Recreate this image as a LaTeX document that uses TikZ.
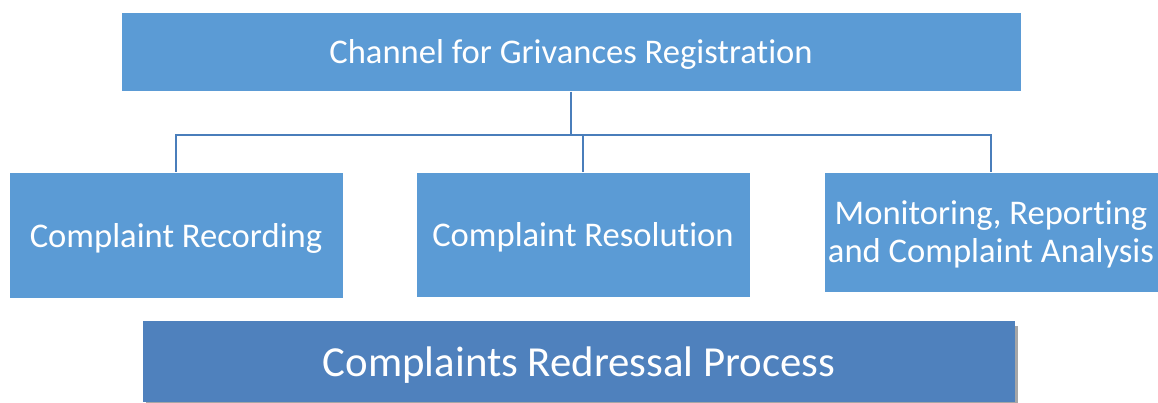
\documentclass[tikz,border=0pt]{standalone}
\usepackage{fontspec}
\setmainfont{Carlito}[Ligatures={NoCommon}]
\begin{document}
\begin{tikzpicture}[x=1pt,y=-1pt,
  box/.style={fill=boxblue,draw=white,line width=1pt,text=white,align=center,inner sep=0pt,
    font=\fontsize{34.6}{38}\selectfont,text depth=0pt},
  conn/.style={draw=lineblue,line width=2.4pt}]
\definecolor{boxblue}{HTML}{5B9BD5}
\definecolor{darkblue}{HTML}{4F81BD}
\definecolor{lineblue}{HTML}{4A7EBB}
\definecolor{shadowgray}{HTML}{A6A6A6}
\useasboundingbox (0,0) rectangle (1158,402);
\node[box,minimum width=900pt,minimum height=79pt] (top) at (571,51.5) {Channel for Grivances Registration};
\node[box,minimum width=334pt,minimum height=126pt] (rec) at (176,235) {Complaint Recording};
\node[box,minimum width=334pt,minimum height=125pt] (res) at (583,234.5) {Complaint Resolution};
\node[box,minimum width=334pt,minimum height=120pt] (mon) at (991,232) {Monitoring, Reporting\\and Complaint Analysis};
\fill[shadowgray] (146,326) rectangle (1018,405);
\node[fill=darkblue,text=white,inner sep=0pt,minimum width=872pt,minimum height=81pt,text depth=0pt,
  font=\fontsize{42.8}{48}\selectfont] (proc) at (579,361.5) {Complaints Redressal Process};
\coordinate (j) at (571,135);
\draw[conn] (top.south) -- (j);
\draw[conn] (rec.north) |- (j) -| (mon.north);
\draw[conn] (res.north) -- (res.north |- j);
\end{tikzpicture}
\end{document}
